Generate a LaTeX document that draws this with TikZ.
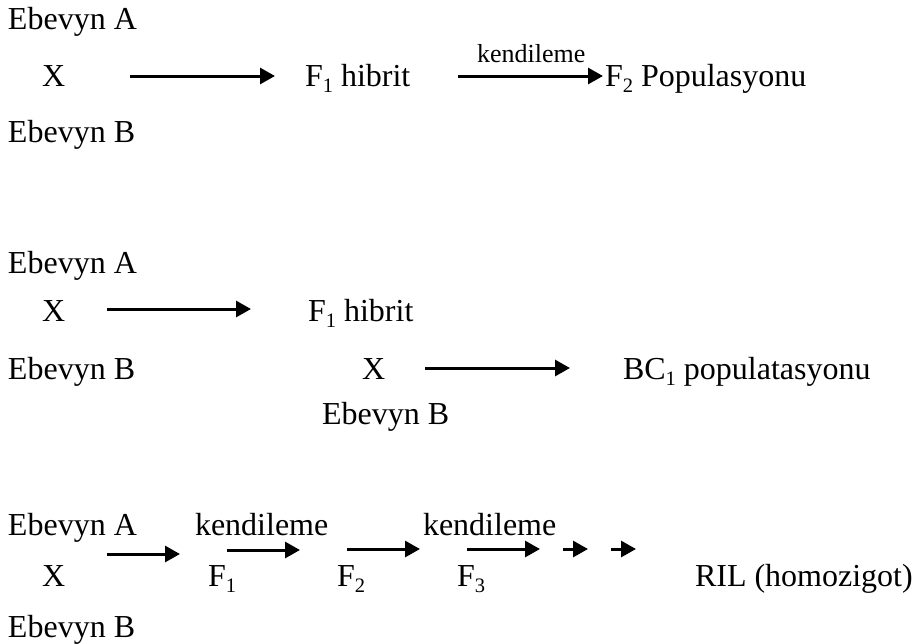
\documentclass[tikz,border=0pt]{standalone}
\usepackage{fontspec}
\setmainfont{Liberation Serif}
\usetikzlibrary{arrows.meta}
\newcommand{\lowidx}[1]{\raisebox{-0.2em}{\fontsize{20.5}{20.5}\selectfont #1}}
\tikzset{
  txt/.style={anchor=base west, inner sep=0pt, outer sep=0pt, font=\fontsize{32}{36}\selectfont},
  smalltxt/.style={anchor=base west, inner sep=0pt, outer sep=0pt, font=\fontsize{26}{30}\selectfont},
  arr/.style={line width=3pt, -{Triangle[length=15pt,width=16pt]}},
}
\begin{document}
\begin{tikzpicture}[x=1pt,y=-1pt]
\useasboundingbox (0,0) rectangle (917,643);
% ---- row 1 ----
\node[txt] (eA1) at (8,29) {Ebevyn A};
\node[txt] (X1) at (42,86) {X};
\node[txt] (F1h1) at (305,86) {F\lowidx{1} hibrit};
\node[smalltxt] (ken1) at (477,62) {kendileme};
\node[txt] (F2P) at (605,86) {F\lowidx{2} Populasyonu};
\node[txt] (eB1) at (8,142) {Ebevyn B};
\coordinate (a1s) at (130,76); \coordinate (a1e) at (275,76);
\coordinate (a2s) at (458,76); \coordinate (a2e) at (603,76);
\draw[arr] (a1s) -- (a1e);
\draw[arr] (a2s) -- (a2e);
% ---- row 2 ----
\node[txt] (eA2) at (8,273) {Ebevyn A};
\node[txt] (X2) at (42,321) {X};
\node[txt] (F1h2) at (308,321) {F\lowidx{1} hibrit};
\node[txt] (eB2) at (8,379) {Ebevyn B};
\node[txt] (X2b) at (362,379) {X};
\node[txt] (BC1) at (623,379) {BC\lowidx{1} populatasyonu};
\node[txt] (eB2b) at (322,424) {Ebevyn B};
\coordinate (b1s) at (107,309); \coordinate (b1e) at (251,309);
\coordinate (b2s) at (425,368); \coordinate (b2e) at (570,368);
\draw[arr] (b1s) -- (b1e);
\draw[arr] (b2s) -- (b2e);
% ---- row 3 ----
\node[txt] (eA3) at (8,535) {Ebevyn A};
\node[txt] (ken3a) at (195,535) {kendileme};
\node[txt] (ken3b) at (423,535) {kendileme};
\node[txt] (X3) at (42,586) {X};
\node[txt] (F1) at (208,586) {F\lowidx{1}};
\node[txt] (F2) at (337,586) {F\lowidx{2}};
\node[txt] (F3) at (457,586) {F\lowidx{3}};
\node[txt] (RIL) at (695,586) {RIL (homozigot)};
\node[txt] (eB3) at (8,637) {Ebevyn B};
\coordinate (c1s) at (107,554); \coordinate (c1e) at (180,554);
\coordinate (c2s) at (227,550); \coordinate (c2e) at (300,550);
\coordinate (c3s) at (347,549); \coordinate (c3e) at (420,549);
\coordinate (c4s) at (467,549); \coordinate (c4e) at (540,549);
\coordinate (c5s) at (563,549); \coordinate (c5e) at (588,549);
\coordinate (c6s) at (611,549); \coordinate (c6e) at (636,549);
\draw[arr] (c1s) -- (c1e);
\draw[arr] (c2s) -- (c2e);
\draw[arr] (c3s) -- (c3e);
\draw[arr] (c4s) -- (c4e);
\draw[arr] (c5s) -- (c5e);
\draw[arr] (c6s) -- (c6e);
\end{tikzpicture}
\end{document}
